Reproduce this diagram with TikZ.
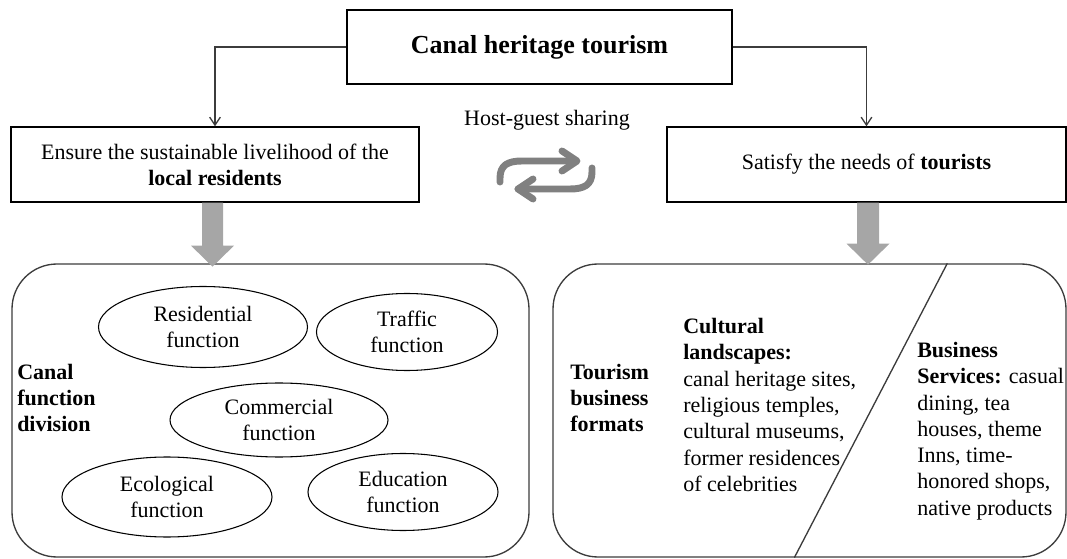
\documentclass[tikz,border=0pt]{standalone}
\usepackage{fontspec}
\setmainfont{Liberation Serif}
\usetikzlibrary{arrows.meta,calc,shapes.geometric}
\definecolor{linegray}{RGB}{60,60,60}
\definecolor{icongray}{RGB}{128,128,128}
\definecolor{blockgray}{RGB}{166,166,166}

\begin{document}
\begin{tikzpicture}[x=0.75pt,y=-0.75pt,
  every node/.style={font=\fontsize{16.5}{19.7}\selectfont},
  box/.style={draw=black, line width=1pt, inner sep=0pt, align=center},
  panel/.style={draw=linegray, line width=1pt, rounded corners=33.75pt, inner sep=0pt},
  func/.style={draw=black, line width=0.8pt, ellipse, inner sep=0pt, align=center},
  link/.style={draw=linegray, line width=1pt, -{Straight Barb[length=6pt,width=8pt]}},
  textblock/.style={align=left, inner sep=0pt, anchor=west},
  boldblock/.style={textblock, font=\fontsize{16.5}{19.7}\selectfont\bfseries},
  swap/.style={draw=icongray, line width=5.2pt, line cap=round, line join=round},
]
\useasboundingbox (0,0) rectangle (1067,559);

% top level and the two goals
\node[box, minimum width=288.75pt, minimum height=55.5pt,
      font=\fontsize{19.5}{23}\selectfont\bfseries] (top) at (539.5,47) {Canal heritage tourism};
\node[box, minimum width=306pt, minimum height=56.25pt] (L) at (215,164.5)
  {Ensure the sustainable livelihood of the\\\textbf{local residents}};
\node[box, minimum width=299.25pt, minimum height=56.25pt] (R) at (866.5,164.5)
  {Satisfy the needs of \textbf{tourists}};

\draw[link] (top.west) -| (L.north);
\draw[link] (top.east) -| (R.north);

% exchange between hosts and guests
\node (host) at (547,120) {Host-guest sharing};
\draw[swap] (500,182) -- (500,178) .. controls (500,165) and (508,161) .. (522,161) -- (576,161);
\draw[swap] (562,151) -- (577,161) -- (562,171);
\draw[swap] (592,168) -- (592,172) .. controls (592,185) and (584,189) .. (570,189) -- (518,189);
\draw[swap] (533,179) -- (518,189) -- (533,199);

% lower panels
\node[panel, minimum width=387.75pt, minimum height=219.75pt] (LB) at (270.5,410.5) {};
\node[panel, minimum width=384.75pt, minimum height=219.75pt] (RB) at (809.5,410.5) {};

% broad arrows from the goals down to the panels
\fill[blockgray, shift={($(L.south)+(-2.5,0)$)}]
  (-10.5,0) -- (10.5,0) -- (10.5,43) -- (21.5,43) -- (0,64) -- (-21.5,43) -- (-10.5,43) -- cycle;
\fill[blockgray, shift={($(R.south)+(1.5,0)$)}]
  (-11,0) -- (11,0) -- (11,41) -- (21.5,41) -- (0,62) -- (-21.5,41) -- (-11,41) -- cycle;

% canal functions
\node[boldblock] (cfd) at (17,398) {Canal\\function\\division};
\node[func, minimum width=156.75pt, minimum height=60.75pt] (res) at (203,327) {Residential\\function};
\node[func, minimum width=135.75pt, minimum height=57.75pt] (tra) at (407,332) {Traffic\\function};
\node[func, minimum width=163.5pt, minimum height=55.5pt] (com) at (279,420) {Commercial\\function};
\node[func, minimum width=157.5pt, minimum height=60pt] (eco) at (167,497) {Ecological\\function};
\node[func, minimum width=142.5pt, minimum height=57.75pt] (edu) at (403,492) {Education\\function};

% tourism business formats
\coordinate (dtop) at ($(RB.north west)+(395,0)$);
\coordinate (dbot) at ($(RB.south west)+(242,0)$);
\draw[linegray, line width=1pt] (dtop) -- (dbot);
\node[boldblock] (tbf) at (570,398) {Tourism\\business\\formats};
\node[textblock] (cul) at (683,405)
  {\textbf{Cultural}\\\textbf{landscapes:}\\canal heritage sites,\\religious temples,\\cultural museums,\\former residences\\of celebrities};
\node[textblock] (bus) at (917,431)
  {\textbf{Business}\\\textbf{Services:} casual\\dining, tea\\houses, theme\\Inns, time-\\honored shops,\\native products};
\end{tikzpicture}
\end{document}
